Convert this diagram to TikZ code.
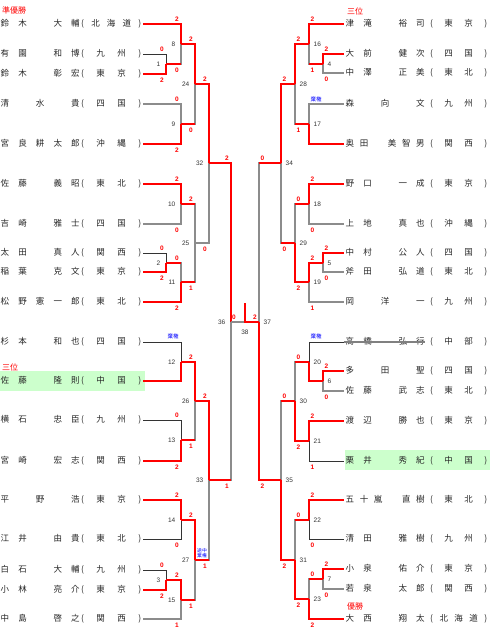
\documentclass[tikz,border=0pt]{standalone}
\usepackage{fontspec}
\setmainfont{Liberation Sans}
\newfontfamily\jp{Noto Sans CJK JP}
\usepackage{tikz}
\definecolor{hl}{HTML}{CCFFCC}
\definecolor{lbl}{HTML}{333333}
\definecolor{kikenblue}{HTML}{0000FF}

% spread the letters of a name evenly over a box
\def\charfill#1#2\relax{#1\ifx\relax#2\relax\else\hfill\charfill#2\relax\fi}
\newcommand\pname[4]{%
  \makebox[79pt][s]{\expandafter\charfill#3\relax}\hspace{#1}%
  \makebox[#2][s]{(\hfill\expandafter\charfill#4\relax\hfill)}}

\begin{document}
\begin{tikzpicture}[x=1pt,y=-1pt,
    win/.style={draw=red,line width=1.8pt},
    lose/.style={draw=black!45,line width=1.1pt},
    loseb/.style={draw=black!80,line width=0.9pt},
    strike/.style={draw=black!50,line width=1.5pt},
    pl/.style={anchor=west,inner xsep=2pt,inner ysep=1pt,text=black!85,
      font=\jp\fontsize{8.5}{10}\selectfont},
    head/.style={anchor=west,inner sep=0pt,text=red,font=\jp\fontsize{8}{9}\selectfont},
    num/.style={inner sep=0.5pt,text=lbl,font=\fontsize{6.5}{7}\selectfont},
    score/.style={inner sep=0.5pt,text=red,font=\bfseries\fontsize{6.5}{7}\selectfont},
    kiken/.style={inner sep=0pt,text=kikenblue,align=center,font=\jp\fontsize{5.5}{5.5}\selectfont},
    la/.style={xshift=-4pt,yshift=4.5pt}, lb/.style={xshift=-4pt,yshift=-6pt},
    ra/.style={xshift=3.5pt,yshift=4.5pt}, rb/.style={xshift=3.5pt,yshift=-6pt}]

  \useasboundingbox (0,0) rectangle (490,633);

  % highlighted players
  \fill[hl] (0,371) rectangle (145,391);
  \fill[hl] (345,450) rectangle (490,470);

  % left players
  \foreach \i/\y/\nm/\rg in {1/24/鈴木　大輔/北海道, 2/54/有園　和博/九州,
      3/74/鈴木　彰宏/東京, 4/104/清水貴/四国, 5/144/宮良耕太郎/沖縄,
      6/184/佐藤　義昭/東北, 7/224/吉崎　雅士/四国, 8/253/太田　真人/関西,
      9/272/稲葉　克文/東京, 10/302/松野憲一郎/東北, 11/342/杉本　和也/四国,
      12/381/佐藤　隆則/中国, 13/420/横石　忠臣/九州, 14/461/宮崎　宏志/関西,
      15/500/平野浩/東京, 16/539/江井　由貴/東北, 17/570/白石　大輔/九州,
      18/590/小林　亮介/東京, 19/619/中島　啓之/関西}
    \node[pl] (l\i) at (-1.5,\y) {\pname{1.5pt}{60pt}{\nm}{\rg}};

  % right players
  \foreach \i/\y/\nm/\rg in {1/24/津滝　裕司/東京, 2/54/大前　健次/四国,
      3/73/中澤　正美/東北, 4/104/森向文/九州, 5/144/奥田　美智男/関西,
      6/184/野口　一成/東京, 7/224/上地　真也/沖縄, 8/253/中村　公人/四国,
      9/272/斧田　弘道/東北, 10/302/岡洋一/九州, 11/342/高橋　弘行/中部,
      12/371/多田聖/四国, 13/391/佐藤　武志/東北, 14/421/渡辺　勝也/東京,
      15/461/栗井　秀紀/中国, 16/500/五十嵐　直樹/東北, 17/539/清田　雅樹/九州,
      18/569/小泉　佑介/東京, 19/589/若泉　太郎/関西, 20/619/大西　翔太/北海道}
    \node[pl] (r\i) at (343.5,\y) {\pname{5.5pt}{57pt}{\nm}{\rg}};

  % headings
  \node[head] (hd1) at (2,10) {準優勝};
  \node[head] (hd2) at (347,11) {三位};
  \node[head] (hd3) at (2,367) {三位};
  \node[head] (hd4) at (347,606) {優勝};

  % matches, left half
  \foreach \n/\x/\y in {1/166/64, 2/166/263, 3/166/580, 8/181/44, 9/181/124,
      10/181/204, 11/181/282, 12/181/362, 13/181/440, 14/181/520, 15/181/600,
      24/195/84, 25/195/243, 26/195/401, 27/195/560, 32/209/163, 33/209/480,
      36/231/322} {
    \coordinate (m\n) at (\x,\y);
    \node[num,anchor=east] (n\n) at ([xshift=-5pt]m\n) {\n};
  }
  % matches, right half
  \foreach \n/\x/\y in {4/323/64, 5/323/263, 6/323/381, 7/323/579, 16/309/44,
      17/309/124, 18/309/204, 19/309/282, 20/309/362, 21/309/441, 22/309/520,
      23/309/599, 28/295/84, 29/295/243, 30/295/401, 31/295/560, 34/281/163,
      35/281/480, 37/259/322} {
    \coordinate (m\n) at (\x,\y);
    \node[num,anchor=west] (n\n) at ([xshift=4pt]m\n) {\n};
  }
  % final
  \coordinate (m38) at (245,322);
  \coordinate (champ) at (245,303);
  \node[num] (n38) at (245,332) {38};

  % losing lines
  \foreach \a/\b in {l4/m9, l7/m10, m25/m32, l19/m15, r3/m4, r4/m17, r7/m18,
      r9/m5, r10/m19, r13/m6, r19/m7, m1/m8, m9/m24, m2/m11, m10/m25, m11/m25,
      m13/m26, m15/m27, m27/m33, m33/m36, m4/m16, m17/m28, m18/m29, m29/m34,
      m20/m30, m22/m31, m7/m23, m30/m35, m34/m37}
    \draw[lose] (\a) -| (\b);
  \foreach \a/\b in {l2/m1, l8/m2, l11/m12, l13/m13, l16/m14, l17/m3,
      r11/m20, r15/m21, r17/m22}
    \draw[loseb] (\a) -| (\b);

  % withdrawn player struck through
  \coordinate (s11) at (425,342);
  \draw[strike] (r11.west) -- (s11);

  % a won match carries the red line on
  \foreach \a/\b in {m1/m8, m9/m24, m2/m11, m10/m25, m11/m25, m13/m26,
      m15/m27, m27/m33, m33/m36, m4/m16, m17/m28, m18/m29, m29/m34,
      m20/m30, m22/m31, m7/m23, m30/m35, m34/m37}
    \draw[win] (\a) -- (\a -| \b);

  % winners
  \foreach \a/\b in {l3/m1, l1/m8, l5/m9, m8/m24, l6/m10, l9/m2, l10/m11,
      m24/m32, l12/m12, l14/m13, m12/m26, l15/m14, l18/m3, m3/m15, m14/m27,
      m26/m33, m32/m36, r2/m4, r1/m16, r5/m17, m16/m28, r6/m18, r8/m5,
      m5/m19, m19/m29, m28/m34, r12/m6, m6/m20, r14/m21, m21/m30, r16/m22,
      r18/m7, r20/m23, m23/m31, m31/m35, m35/m37}
    \draw[win] (\a) -| (\b);

  % final
  \draw[lose] (m36) -- (m38);
  \draw[win] (m37) -- (m38) -- (champ);

  % scores
  \foreach \a/\b/\s/\p in {l2/m1/0/la, l3/m1/2/lb, l1/m8/2/la, m1/m8/0/lb,
      l4/m9/0/la, l5/m9/2/lb, m8/m24/2/la, m9/m24/0/lb, l6/m10/2/la,
      l7/m10/0/lb, l8/m2/0/la, l9/m2/2/lb, m2/m11/0/la, l10/m11/2/lb,
      m10/m25/2/la, m11/m25/1/lb, m24/m32/2/la, m25/m32/0/lb,
      l13/m13/0/la, l14/m13/2/lb, m12/m26/2/la, m13/m26/1/lb,
      l15/m14/2/la, l16/m14/0/lb, l17/m3/0/la, l18/m3/2/lb,
      m3/m15/2/la, l19/m15/1/lb, m14/m27/2/la, m15/m27/1/lb,
      m26/m33/2/la, m27/m33/1/lb, m32/m36/2/la, m33/m36/1/lb,
      r2/m4/2/ra, r3/m4/0/rb, r1/m16/2/ra, m4/m16/1/rb,
      m16/m28/2/ra, m17/m28/1/rb, r6/m18/2/ra, r7/m18/0/rb,
      r8/m5/2/ra, r9/m5/0/rb, m5/m19/2/ra, r10/m19/1/rb,
      m18/m29/0/ra, m19/m29/2/rb, m28/m34/2/ra, m29/m34/0/rb,
      r12/m6/2/ra, r13/m6/0/rb, m20/m30/0/ra, m21/m30/2/rb,
      r14/m21/2/ra, r15/m21/1/rb, r16/m22/2/ra, r17/m22/0/rb,
      r18/m7/2/ra, r19/m7/0/rb, m7/m23/0/ra, r20/m23/2/rb,
      m22/m31/0/ra, m23/m31/2/rb, m30/m35/0/ra, m31/m35/2/rb,
      m34/m37/0/ra, m35/m37/2/rb}
    \node[score,\p] (sc-\a-\b) at (\a -| \b) {\s};
  \node[score] (f36) at ([xshift=3pt,yshift=5pt]m36) {0};
  \node[score] (f37) at ([xshift=-4pt,yshift=5pt]m37) {2};

  % withdrawals
  \node[kiken] (k12) at (173,336) {棄権};
  \node[kiken] (k17) at (316,99) {棄権};
  \node[kiken] (k20) at (316,336) {棄権};
  \node[kiken,font=\jp\fontsize{4.8}{5.2}\selectfont] (k27) at (202,553) {途中\\棄権};

\end{tikzpicture}
\end{document}
